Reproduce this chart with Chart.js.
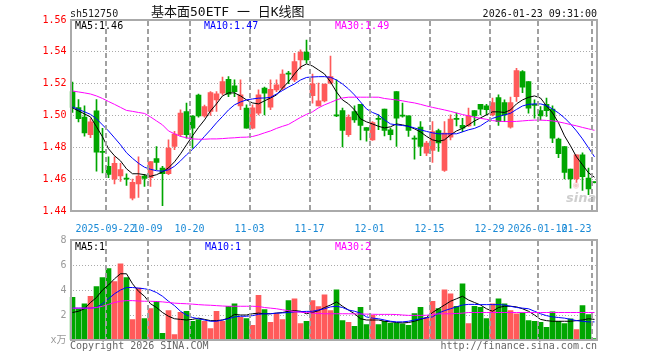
<!DOCTYPE html>
<html>
<head>
<meta charset="utf-8">
<script src="https://cdn.jsdelivr.net/npm/chart.js@4.4.1/dist/chart.umd.min.js"></script>
<style>
  html, body { margin: 0; padding: 0; background: #fff; }
  #wrap { position: relative; width: 660px; height: 360px; overflow: hidden; background: #fff;
          font-family: "DejaVu Sans Mono", "Noto Sans CJK SC", monospace; font-size: 10px; }
  #kChart { position: absolute; left: 0; top: 0; z-index: 1; }
  #volChart { position: absolute; left: 0; top: 232px; z-index: 1; }
  .t { position: absolute; white-space: pre; line-height: 12px; z-index: 4; }
  .dayline { position: absolute; width: 2px; z-index: 3;
             background-image: repeating-linear-gradient(to bottom, #a0a0a0 0px, #a0a0a0 5px, rgba(255,255,255,0) 5px, rgba(255,255,255,0) 8px); }
</style>
</head>
<body>
<div id="wrap">
  <canvas id="kChart" width="660" height="232" style="width:660px;height:232px"></canvas>
  <canvas id="volChart" width="660" height="128" style="width:660px;height:128px"></canvas>

  <div class="t" style="left:70px;top:8px;color:#222">sh512750</div>
  <div class="t" style="left:151px;top:4px;font-size:13px;line-height:15px;color:#111">基本面50ETF 一 日K线图</div>
  <div class="t" style="right:63px;top:8px;color:#111">2026-01-23 09:31:00</div>

  <div class="t" style="left:75px;top:20px;color:#000">MA5:1.46</div>
  <div class="t" style="left:204px;top:20px;color:#0000ff">MA10:1.47</div>
  <div class="t" style="left:335px;top:20px;color:#ff00ff">MA30:1.49</div>

  <div class="t" style="left:75px;top:241px;color:#000">MA5:1</div>
  <div class="t" style="left:205px;top:241px;color:#0000ff">MA10:1</div>
  <div class="t" style="left:335px;top:241px;color:#ff00ff">MA30:2</div>

  <div class="t" style="left:573px;top:180px;font-size:10px;line-height:10px;color:rgba(225,140,140,0.45)">◉</div>
  <div class="t" style="left:566px;top:190px;font-family:'DejaVu Sans';font-weight:bold;font-style:italic;font-size:13px;line-height:15px;color:rgba(185,185,185,0.7)">sina</div>

  <div class="t" style="left:70px;top:340px;color:#666">Copyright 2026 SINA.COM</div>
  <div class="t" style="right:63px;top:340px;color:#666">http://finance.sina.com.cn</div>
</div>

<script>
// trading days shown on the chart
const dates = [
  "2025-09-12","2025-09-15","2025-09-16","2025-09-17","2025-09-18","2025-09-19",
  "2025-09-22","2025-09-23","2025-09-24","2025-09-25","2025-09-26","2025-09-29","2025-09-30",
  "2025-10-09","2025-10-10","2025-10-13","2025-10-14","2025-10-15","2025-10-16","2025-10-17",
  "2025-10-20","2025-10-21","2025-10-22","2025-10-23","2025-10-24","2025-10-27","2025-10-28",
  "2025-10-29","2025-10-30","2025-10-31","2025-11-03","2025-11-04","2025-11-05","2025-11-06",
  "2025-11-07","2025-11-10","2025-11-11","2025-11-12","2025-11-13","2025-11-14","2025-11-17",
  "2025-11-18","2025-11-19","2025-11-20","2025-11-21","2025-11-24","2025-11-25","2025-11-26",
  "2025-11-27","2025-11-28","2025-12-01","2025-12-02","2025-12-03","2025-12-04","2025-12-05",
  "2025-12-08","2025-12-09","2025-12-10","2025-12-11","2025-12-12","2025-12-15","2025-12-16",
  "2025-12-17","2025-12-18","2025-12-19","2025-12-22","2025-12-23","2025-12-24","2025-12-25",
  "2025-12-26","2025-12-29","2025-12-30","2025-12-31","2026-01-05","2026-01-06","2026-01-07",
  "2026-01-08","2026-01-09","2026-01-12","2026-01-13","2026-01-14","2026-01-15","2026-01-16",
  "2026-01-19","2026-01-20","2026-01-21","2026-01-22","2026-01-23"
];

const openPrice = [
  1.515, 1.505, 1.499, 1.488, 1.503, 1.4772, 1.468, 1.460, 1.462, 1.4603,
  1.448, 1.457, 1.462, 1.461, 1.473, 1.467, 1.4634, 1.4805, 1.488, 1.5025,
  1.4997, 1.5129, 1.4997, 1.5025, 1.5098, 1.514, 1.5228, 1.5186, 1.506, 1.5046,
  1.4921, 1.5015, 1.5172, 1.5052, 1.5161, 1.5172, 1.5265, 1.5224, 1.5349, 1.5399,
  1.5125, 1.506, 1.5092, 1.5203, 1.5004, 1.5031, 1.4879, 1.5025, 1.507, 1.4924,
  1.4847, 1.4979, 1.504, 1.491, 1.515, 1.4999, 1.4998, 1.4855, 1.4927, 1.4763,
  1.478, 1.4906, 1.4655, 1.4864, 1.4979, 1.4938, 1.4935, 1.5031, 1.507, 1.5061,
  1.5004, 1.5113, 1.5081, 1.4927, 1.5119, 1.5276, 1.5213, 1.5067, 1.5031, 1.507,
  1.5041, 1.4852, 1.4805, 1.4663, 1.4601, 1.4753, 1.4607, 1.4581
];

const highPrice = [
  1.521, 1.510, 1.506, 1.498, 1.510, 1.492, 1.474, 1.474, 1.470, 1.4634,
  1.460, 1.474, 1.463, 1.471, 1.4805, 1.468, 1.4847, 1.490, 1.5036, 1.5078,
  1.500, 1.5135, 1.5065, 1.515, 1.515, 1.5241, 1.5244, 1.5224, 1.5224, 1.5067,
  1.5067, 1.5161, 1.5178, 1.5224, 1.5224, 1.5287, 1.5278, 1.5391, 1.5412, 1.5474,
  1.5261, 1.5203, 1.5197, 1.5374, 1.5224, 1.5046, 1.5004, 1.5061, 1.507, 1.4924,
  1.4962, 1.5004, 1.504, 1.4921, 1.515, 1.5078, 1.4998, 1.4872, 1.4962, 1.4837,
  1.4962, 1.4914, 1.4962, 1.5004, 1.5015, 1.4983, 1.5046, 1.5031, 1.507, 1.507,
  1.5109, 1.513, 1.5098, 1.5115, 1.5297, 1.5282, 1.5213, 1.5098, 1.5056, 1.5109,
  1.5061, 1.4858, 1.4805, 1.4663, 1.4753, 1.4766, 1.467, 1.4583
];

const lowPrice = [
  1.502, 1.496, 1.487, 1.486, 1.465, 1.464, 1.461, 1.457, 1.4586, 1.456,
  1.447, 1.4485, 1.4554, 1.4554, 1.4659, 1.4433, 1.4628, 1.4785, 1.4868, 1.4858,
  1.4795, 1.499, 1.499, 1.500, 1.5025, 1.513, 1.5119, 1.5119, 1.5036, 1.4921,
  1.4915, 1.5004, 1.5004, 1.5036, 1.515, 1.5161, 1.520, 1.5213, 1.5293, 1.5328,
  1.5078, 1.506, 1.5085, 1.5199, 1.4993, 1.4802, 1.4868, 1.4956, 1.4847, 1.4838,
  1.4843, 1.4911, 1.4872, 1.4847, 1.4805, 1.499, 1.4868, 1.4726, 1.4747, 1.4747,
  1.4705, 1.4774, 1.4648, 1.4847, 1.4935, 1.4899, 1.4931, 1.4938, 1.5004, 1.5004,
  1.4998, 1.4938, 1.4962, 1.4921, 1.5088, 1.5144, 1.5015, 1.4983, 1.4973, 1.4995,
  1.483, 1.4735, 1.4601, 1.4544, 1.4579, 1.4529, 1.4502, 1.4576
];

const closePrice = [
  1.505, 1.498, 1.489, 1.496, 1.477, 1.4768, 1.463, 1.470, 1.466, 1.4600,
  1.458, 1.462, 1.4605, 1.471, 1.4705, 1.4634, 1.4795, 1.4883, 1.5015, 1.4879,
  1.4921, 1.4997, 1.5056, 1.5144, 1.5136, 1.5213, 1.5134, 1.515, 1.513, 1.4921,
  1.5048, 1.513, 1.514, 1.5165, 1.5192, 1.5261, 1.526, 1.5339, 1.5399, 1.5349,
  1.5199, 1.5092, 1.5197, 1.5244, 1.4998, 1.4906, 1.499, 1.4973, 1.4938, 1.4906,
  1.4956, 1.4976, 1.4906, 1.4879, 1.4983, 1.4996, 1.4906, 1.4852, 1.4805, 1.4827,
  1.4899, 1.4827, 1.4889, 1.4977, 1.4976, 1.4921, 1.4998, 1.4998, 1.504, 1.5036,
  1.5081, 1.4962, 1.5004, 1.5081, 1.5282, 1.5178, 1.5046, 1.5064, 1.4998, 1.5031,
  1.4858, 1.476, 1.4642, 1.4601, 1.4753, 1.4615, 1.4538, 1.4578
];

// volume, 10k lots
const volume = [
  3.41, 2.48, 2.9, 3.49, 4.28, 5.0, 5.72, 4.68, 6.09, 5.0,
  1.63, 4.15, 1.71, 2.51, 3.09, 0.54, 2.35, 0.44, 2.21, 2.29,
  1.5, 1.63, 1.5, 0.92, 2.29, 1.5, 2.69, 2.9, 1.82, 1.71,
  1.18, 3.57, 2.43, 1.42, 2.09, 1.63, 3.15, 3.3, 1.31, 1.5,
  3.15, 2.67, 3.62, 2.35, 4.02, 1.55, 1.42, 1.1, 2.61, 1.23,
  1.97, 1.23, 1.5, 1.34, 1.34, 1.29, 1.18, 2.11, 2.61, 1.77,
  3.09, 2.51, 4.02, 3.7, 2.69, 4.5, 1.31, 2.69, 2.61, 1.71,
  2.9, 3.3, 2.9, 2.35, 2.09, 2.17, 1.55, 1.5, 1.42, 1.02,
  2.25, 1.5, 1.31, 1.69, 0.84, 2.75, 2.03, 0.12
];

const ma5 = [
  1.5048, 1.5029, 1.5010, 1.4991, 1.4929, 1.4866, 1.4791, 1.4747, 1.4715, 1.4665,
  1.4634, 1.4634, 1.4628, 1.4618, 1.4628, 1.4646, 1.4671, 1.4709, 1.4759, 1.4816,
  1.4872, 1.4925, 1.4972, 1.5029, 1.5073, 1.5123, 1.5142, 1.5142, 1.5123, 1.5098,
  1.5079, 1.5073, 1.5092, 1.5110, 1.5129, 1.5173, 1.5211, 1.5261, 1.5305, 1.5324,
  1.5311, 1.5286, 1.5261, 1.5211, 1.5148, 1.5098, 1.5073, 1.5035, 1.4979, 1.4960,
  1.4947, 1.4932, 1.4922, 1.4929, 1.4947, 1.4941, 1.4932, 1.4916, 1.4897, 1.4869,
  1.4847, 1.4838, 1.4847, 1.4878, 1.4903, 1.4919, 1.4941, 1.4966, 1.4985, 1.5004,
  1.5023, 1.5023, 1.5019, 1.5035, 1.5073, 1.5098, 1.5114, 1.5123, 1.5110, 1.5060,
  1.5016, 1.4954, 1.4872, 1.4809, 1.4740, 1.4690, 1.4640, 1.4612
];

const ma10 = [
  1.5054, 1.5038, 1.5023, 1.5007, 1.4979, 1.4941, 1.4903, 1.4860, 1.4816, 1.4766,
  1.4731, 1.4700, 1.4675, 1.4662, 1.4653, 1.4650, 1.4659, 1.4681, 1.4715, 1.4753,
  1.4787, 1.4826, 1.4869, 1.4910, 1.4954, 1.4994, 1.5035, 1.5067, 1.5085, 1.5098,
  1.5104, 1.5109, 1.5110, 1.5114, 1.5135, 1.5157, 1.5179, 1.5198, 1.5223, 1.5239,
  1.5242, 1.5244, 1.5244, 1.5240, 1.5223, 1.5198, 1.5167, 1.5129, 1.5085, 1.5041,
  1.5019, 1.5004, 1.4972, 1.4947, 1.4941, 1.4937, 1.4932, 1.4922, 1.4910, 1.4900,
  1.4891, 1.4885, 1.4885, 1.4885, 1.4885, 1.4897, 1.4910, 1.4919, 1.4935, 1.4960,
  1.4982, 1.4994, 1.5004, 1.5014, 1.5038, 1.5060, 1.5070, 1.5073, 1.5073, 1.5063,
  1.5041, 1.5016, 1.4985, 1.4947, 1.4903, 1.4853, 1.4797, 1.4740
];

const ma30 = [
  1.5154, 1.5148, 1.5142, 1.5135, 1.5123, 1.5107, 1.5088, 1.5070, 1.5051, 1.5032,
  1.5026, 1.5019, 1.5013, 1.4991, 1.4966, 1.4941, 1.4903, 1.4885, 1.4869, 1.4860,
  1.4853, 1.4851, 1.4851, 1.4853, 1.4853, 1.4855, 1.4858, 1.4860, 1.4863, 1.4864,
  1.4868, 1.4878, 1.4891, 1.4903, 1.4919, 1.4932, 1.4944, 1.4966, 1.4988, 1.5007,
  1.5023, 1.5048, 1.5067, 1.5082, 1.5098, 1.5110, 1.5115, 1.5115, 1.5115, 1.5115,
  1.5115, 1.5115, 1.5107, 1.5102, 1.5098, 1.5092, 1.5085, 1.5079, 1.5070, 1.5060,
  1.5051, 1.5043, 1.5035, 1.5026, 1.5016, 1.5006, 1.4998, 1.4989, 1.4982, 1.4976,
  1.4968, 1.4964, 1.4962, 1.4962, 1.4963, 1.4966, 1.4969, 1.4971, 1.4971, 1.4969,
  1.4966, 1.4960, 1.4952, 1.4943, 1.4935, 1.4925, 1.4916, 1.4907
];

const volMa5 = [
  2.2, 2.3, 2.5, 3.0, 3.4, 4.0, 4.4, 4.9, 5.3, 5.3,
  4.5, 3.9, 3.5, 2.9, 2.6, 2.2, 1.9, 1.7, 1.65, 1.6,
  1.65, 1.75, 1.65, 1.55, 1.55, 1.6, 1.75, 2.05, 2.0, 2.0,
  2.1, 2.15, 2.1, 2.1, 2.15, 2.2, 2.3, 2.35, 2.3, 2.1,
  2.2, 2.35, 2.6, 2.8, 3.05, 2.7, 2.4, 2.1, 1.7, 1.6,
  1.6, 1.6, 1.5, 1.45, 1.4, 1.37, 1.4, 1.5, 1.65, 1.8,
  2.2, 2.5, 2.8, 3.1, 3.3, 3.5, 3.2, 3.0, 2.8, 2.5,
  2.3, 2.6, 2.7, 2.7, 2.65, 2.5, 2.3, 2.0, 1.65, 1.55,
  1.5, 1.5, 1.5, 1.5, 1.55, 1.6, 1.7, 1.65
];

const volMa10 = [
  2.55, 2.55, 2.55, 2.55, 2.6, 2.9, 3.3, 3.7, 4.0, 4.2,
  4.2, 4.15, 4.1, 4.0, 3.8, 3.5, 3.1, 2.75, 2.3, 2.0,
  1.8, 1.7, 1.6, 1.5, 1.5, 1.6, 1.7, 1.85, 1.9, 1.9,
  1.95, 2.05, 2.1, 2.1, 2.15, 2.17, 2.2, 2.25, 2.27, 2.29,
  2.3, 2.4, 2.5, 2.65, 2.7, 2.6, 2.4, 2.3, 2.15, 1.85,
  1.75, 1.7, 1.6, 1.5, 1.45, 1.45, 1.5, 1.6, 1.7, 1.77,
  1.85, 2.15, 2.35, 2.5, 2.65, 2.8, 2.85, 2.85, 2.83, 2.83,
  2.83, 2.83, 2.8, 2.7, 2.6, 2.55, 2.5, 2.3, 2.1, 1.95,
  1.85, 1.8, 1.75, 1.65, 1.55, 1.5, 1.45, 1.45
];

const volMa30 = [
  2.55, 2.55, 2.55, 2.55, 2.6, 2.7, 2.85, 3.0, 3.1, 3.15,
  3.15, 3.12, 3.1, 3.1, 3.08, 3.05, 3.0, 2.95, 2.92, 2.9,
  2.87, 2.83, 2.8, 2.78, 2.75, 2.72, 2.7, 2.7, 2.7, 2.7,
  2.7, 2.68, 2.6, 2.55, 2.5, 2.42, 2.35, 2.27, 2.22, 2.2,
  2.15, 2.12, 2.1, 2.1, 2.1, 2.1, 2.1, 2.09, 2.08, 2.07,
  2.06, 2.05, 2.05, 2.05, 2.04, 2.0, 1.97, 1.97, 1.97, 1.98,
  2.05, 2.09, 2.1, 2.1, 2.12, 2.15, 2.2, 2.2, 2.2, 2.2,
  2.2, 2.2, 2.2, 2.2, 2.2, 2.2, 2.2, 2.2, 2.2, 2.2,
  2.2, 2.2, 2.2, 2.2, 2.2, 2.2, 2.2, 2.2
];

const priceTicks = [1.44, 1.46, 1.48, 1.50, 1.52, 1.54, 1.56];
const volTicks = [0, 2, 4, 6, 8];
const volZeroLabel = "x万";

// dates that get a dashed grid line, and the text written under them
const markDates = ["2025-09-22", "2025-10-09", "2025-10-20", "2025-11-03", "2025-11-17",
                   "2025-12-01", "2025-12-15", "2025-12-29", "2026-01-12", "2026-01-23"];
const markTexts = ["2025-09-22", "10-09", "10-20", "11-03", "11-17",
                   "12-01", "12-15", "12-29", "2026-01-12", "01-23"];


const UP = "#ff5a5a";
const DOWN = "#00a600";
const MONO = "'DejaVu Sans Mono', 'Noto Sans CJK SC', monospace";

const PLOT_LEFT = 69.5;
const PLOT_RIGHT_PAD = 62.5;

const candleColors = closePrice.map((c, i) => (c >= openPrice[i] ? UP : DOWN));
const wicks = lowPrice.map((l, i) => [l, highPrice[i]]);
const bodies = openPrice.map((o, i) => [o, closePrice[i]]);

const markPos = markDates.map((d) => dates.indexOf(d));


function tickText(index) {
  const k = markPos.indexOf(index);
  if (k < 0) return "";
  const text = markTexts[k];
  // last label sits flush against the right edge of the plot
  return k === markTexts.length - 1 ? text + " ".repeat(text.length) : text;
}


function drawFrame(chart) {
  const a = chart.chartArea;
  const c = chart.ctx;
  const l = Math.round(a.left) + 1;
  const r = Math.round(a.right) - 1;
  const t = Math.round(a.top);
  const b = Math.round(a.bottom);
  c.save();
  c.setLineDash([]);
  c.strokeStyle = "#aaa";
  c.lineWidth = 2;
  c.strokeRect(l, t, r - l, b - t);
  c.restore();
}


const framePlugin = {
  id: "sinaFrame",
  afterDraw(chart) {
    drawFrame(chart);
  }
};


// dashed day lines at the left edge of each marked candle
function addDayLines(chart, canvasTop) {
  const a = chart.chartArea;
  const xs = chart.scales.x;
  const cell = (a.right - a.left) / dates.length;
  const wrap = document.getElementById("wrap");
  markPos.forEach((idx) => {
    let cx = xs.getPixelForValue(idx);
    if (!Number.isFinite(cx)) cx = a.left + cell * (idx + 0.5);
    const px = Math.round(cx - cell / 2);
    const d = document.createElement("div");
    d.className = "dayline";
    d.style.left = (px - 1) + "px";
    d.style.top = Math.round(canvasTop + a.top + 1) + "px";
    d.style.height = Math.round(a.bottom - a.top - 1) + "px";
    wrap.appendChild(d);
  });
}


function xScale(showLabels, height) {
  return {
    type: "category",
    offset: true,
    grid: { display: false },
    border: { display: false },
    ticks: {
      display: showLabels,
      autoSkip: false,
      maxRotation: 0,
      minRotation: 0,
      labelOffset: -3,
      padding: 4,
      color: "#1a8ad6",
      font: { family: MONO, size: 10 },
      callback: (value, index) => tickText(index)
    },
    afterFit: (s) => {
      s.height = height;
      s.paddingLeft = 0;
      s.paddingRight = 0;
    }
  };
}


function yScale(min, max, ticks, color, fmt) {
  return {
    min: min,
    max: max,
    afterBuildTicks: (s) => { s.ticks = ticks.map((v) => ({ value: v })); },
    grid: {
      drawTicks: false,
      color: (ctx) => (ctx.tick && (ctx.tick.value === min || ctx.tick.value === max) ? "rgba(0,0,0,0)" : "#aaa")
    },
    border: { display: false, dash: [1, 2] },
    ticks: {
      padding: 3,
      color: color,
      font: { family: MONO, size: 10 },
      callback: fmt
    },
    afterFit: (s) => {
      s.width = PLOT_LEFT;
      s.paddingTop = 0;
      s.paddingBottom = 0;
    }
  };
}


function maLine(data, color) {
  return {
    type: "line",
    data: data,
    borderColor: color,
    borderWidth: 1,
    pointRadius: 0,
    tension: 0,
    order: 0
  };
}


const baseOptions = {
  responsive: false,
  animation: false,
  events: [],
  plugins: { legend: { display: false }, tooltip: { enabled: false }, title: { display: false } }
};


const kChart = new Chart(document.getElementById("kChart"), {
  type: "bar",
  data: {
    labels: dates,
    datasets: [
      { data: wicks, backgroundColor: candleColors, barThickness: 1, grouped: false, order: 2 },
      { data: bodies, backgroundColor: candleColors, barThickness: 5, grouped: false, minBarLength: 1, order: 1 },
      maLine(ma30, "#ff00ff"),
      maLine(ma10, "#0000ff"),
      maLine(ma5, "#000000")
    ]
  },
  options: {
    ...baseOptions,
    layout: { padding: { left: 0, right: PLOT_RIGHT_PAD, top: 20, bottom: 0 } },
    scales: {
      x: xScale(true, 21),
      y: yScale(priceTicks[0], priceTicks[priceTicks.length - 1], priceTicks, "#f00", (v) => v.toFixed(2))
    }
  },
  plugins: [framePlugin]
});


const volChart = new Chart(document.getElementById("volChart"), {
  type: "bar",
  data: {
    labels: dates,
    datasets: [
      { data: volume, backgroundColor: candleColors, barThickness: 5, grouped: false, order: 1 },
      maLine(volMa30, "#ff00ff"),
      maLine(volMa10, "#0000ff"),
      maLine(volMa5, "#000000")
    ]
  },
  options: {
    ...baseOptions,
    layout: { padding: { left: 0, right: PLOT_RIGHT_PAD, top: 8, bottom: 0 } },
    scales: {
      x: xScale(false, 20),
      y: yScale(volTicks[0], volTicks[volTicks.length - 1], volTicks, "#999",
                (v) => (v === 0 ? volZeroLabel : String(v)))
    }
  },
  plugins: [framePlugin]
});

addDayLines(kChart, 0);
addDayLines(volChart, 232);
</script>
</body>
</html>
